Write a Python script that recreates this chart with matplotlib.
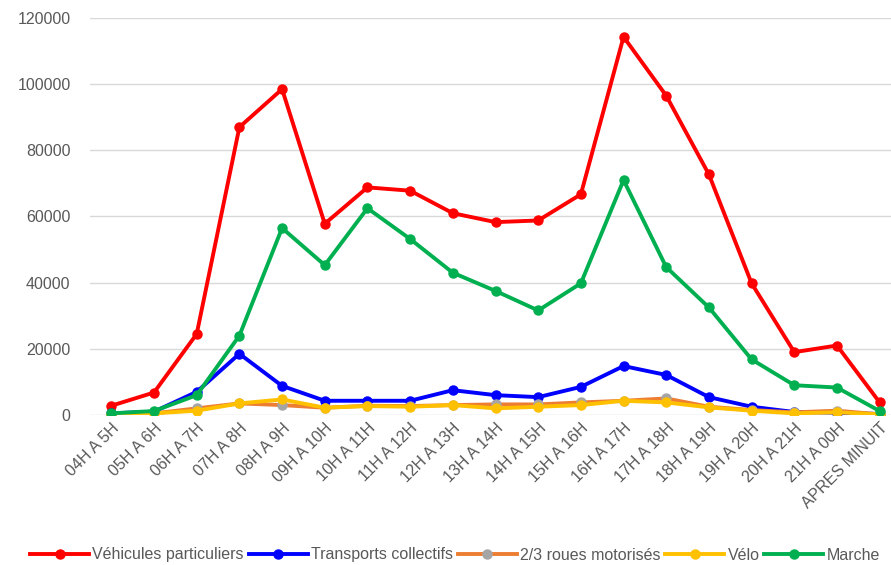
import matplotlib.pyplot as plt
import numpy as np

plt.rcParams['font.family'] = ['Liberation Sans', 'DejaVu Sans']

categories = ['04H A 5H', '05H A 6H', '06H A 7H', '07H A 8H', '08H A 9H', '09H A 10H',
              '10H A 11H', '11H A 12H', '12H A 13H', '13H A 14H', '14H A 15H', '15H A 16H',
              '16H A 17H', '17H A 18H', '18H A 19H', '19H A 20H', '20H A 21H', '21H A 00H',
              'APRES MINUIT']

vehicules = [2800, 6800, 24500, 87000, 98500, 57800, 68800, 67800, 61000, 58300,
             58800, 66700, 114300, 96500, 72700, 39800, 19000, 21000, 3800]
transports = [500, 1000, 7000, 18500, 8800, 4300, 4300, 4300, 7500, 6000,
              5400, 8500, 14800, 12100, 5400, 2500, 900, 700, 300]
deux_roues = [300, 500, 2000, 3500, 3000, 2200, 2800, 2700, 3000, 3200,
              3200, 3800, 4300, 5000, 2500, 1500, 800, 1300, 200]
velo = [300, 500, 1300, 3500, 4700, 2200, 2700, 2500, 3000, 2000,
        2500, 3000, 4300, 3800, 2300, 1300, 500, 800, 200]
marche = [500, 1200, 6000, 24000, 56500, 45300, 62500, 53200, 43000, 37500,
          31600, 39800, 71000, 44700, 32500, 16800, 9000, 8300, 1200]

series = [
    ('Véhicules particuliers', vehicules, '#ff0000', '#ff0000'),
    ('Transports collectifs', transports, '#0000ff', '#0000ff'),
    ('2/3 roues motorisés', deux_roues, '#ed7d31', '#a5a5a5'),
    ('Vélo', velo, '#ffc000', '#ffc000'),
    ('Marche', marche, '#00b050', '#00b050'),
]

fig = plt.figure(figsize=(8.91, 5.65), dpi=100)
ax = fig.add_axes([90 / 891, 1 - 415 / 565, 811 / 891, 397 / 565])

x = np.arange(len(categories))
for name, vals, col, mcol in series:
    ax.plot(x, vals, color=col, lw=2.8, marker='o', ms=6.5,
            markerfacecolor=mcol, markeredgecolor=mcol, label=name)

ax.set_xlim(-0.5, len(categories) - 0.5)
ax.set_ylim(0, 120000)
ax.set_yticks(np.arange(0, 120001, 20000))
ax.yaxis.grid(True, color='#d9d9d9', lw=1)
ax.set_axisbelow(True)
for s in ax.spines.values():
    s.set_visible(False)
ax.tick_params(length=0, colors='#595959', labelsize=11.5)
ax.tick_params(axis='y', pad=14)
ax.tick_params(axis='x', pad=4)
ax.set_xticks(x)
ax.set_xticklabels(categories, rotation=45, ha='right', rotation_mode='anchor')

fig.legend(loc='center', bbox_to_anchor=(455 / 891, 1 - 555 / 565), ncol=5, frameon=False,
           fontsize=11.5, handlelength=3.7, columnspacing=0.3, handletextpad=0.2,
           labelcolor='#595959', borderaxespad=0)

fig.savefig('out.png', dpi=100)
